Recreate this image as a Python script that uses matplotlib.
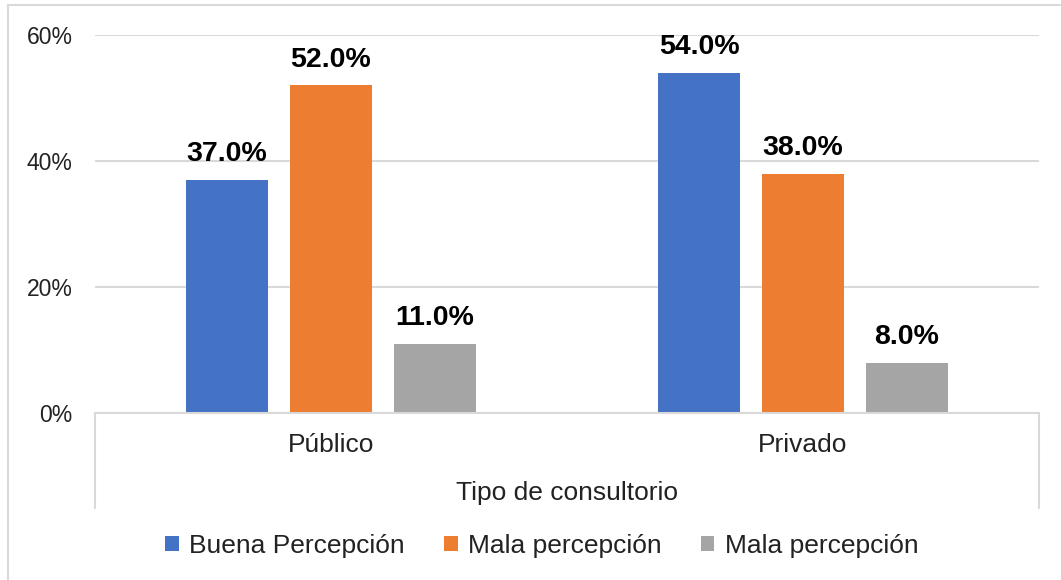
import matplotlib
matplotlib.use("Agg")
import matplotlib.pyplot as plt
from matplotlib.lines import Line2D
from matplotlib.patches import Patch
from matplotlib.ticker import FuncFormatter
import numpy as np

plt.rcParams['font.family'] = ['Liberation Sans', 'DejaVu Sans']

categories = ["Público", "Privado"]
series_names = ["Buena Percepción", "Mala percepción", "Mala percepción"]
buena = [0.37, 0.54]
mala = [0.52, 0.38]
mala2 = [0.11, 0.08]
colors = ["#4472C4", "#ED7D31", "#A5A5A5"]
y_ticks = [0, 0.2, 0.4, 0.6]
x_title = "Tipo de consultorio"

W, H = 1061, 580
fig = plt.figure(figsize=(W / 100, H / 100), dpi=100)
ax = fig.add_axes([95 / W, 1 - 413 / H, (1039 - 95) / W, (413 - 35) / H])

x = np.arange(len(categories))
width = 0.174
step = 0.22
for i, (vals, c) in enumerate(zip([buena, mala, mala2], colors)):
    bars = ax.bar(x + (i - 1) * step, vals, width, color=c, zorder=3)
    for b, v in zip(bars, vals):
        ax.annotate(f"{v * 100:.1f}%", (b.get_x() + b.get_width() / 2, v),
                    xytext=(0, 9), textcoords="offset points",
                    ha="center", va="bottom", fontsize=20.5, fontweight="bold",
                    color="black")

ax.set_xlim(-0.5, 1.5)
ax.set_ylim(0, 0.6)
ax.set_yticks(y_ticks)
ax.yaxis.set_major_formatter(FuncFormatter(lambda v, p: f"{v * 100:.0f}%"))
ax.tick_params(axis="y", length=0, labelsize=16.5, pad=16, labelcolor="#222222")
ax.set_xticks([])
ax.grid(axis="y", color="#D9D9D9", linewidth=1.5, zorder=0)
for s in ["top", "right", "left"]:
    ax.spines[s].set_visible(False)
ax.spines["bottom"].set_color("#D9D9D9")
ax.spines["bottom"].set_linewidth(1.5)
ax.spines["bottom"].set_zorder(4)

# multi-level category axis separators
depth = (508 - 413) / (413 - 35)
for xv in [-0.5, 1.5]:
    ax.plot([xv, xv], [0, -depth], transform=ax.get_xaxis_transform(),
            color="#D9D9D9", linewidth=1.5, clip_on=False)

for xi, cat in zip(x, categories):
    ax.text(xi, -(445 - 413) / (413 - 35), cat, transform=ax.get_xaxis_transform(),
            ha="center", va="center", fontsize=19, color="#222222")
fig.text((95 + 1039) / 2 / W, 1 - 493 / H, x_title, ha="center", va="center",
         fontsize=19, color="#222222")

handles = [Patch(facecolor=c, edgecolor="none") for c in colors]
fig.legend(handles, series_names, loc="center", bbox_to_anchor=(542 / W, 1 - 546 / H),
           ncol=3, frameon=False, fontsize=19, handlelength=0.5, handleheight=0.5,
           handletextpad=0.4, columnspacing=1.5, labelcolor="#222222")

# chart area border (top and left visible)
fig.add_artist(Line2D([8 / W, 8 / W], [0, 1 - 5 / H], transform=fig.transFigure,
                      color="#D9D9D9", linewidth=1.5))
fig.add_artist(Line2D([8 / W, 1], [1 - 5 / H, 1 - 5 / H], transform=fig.transFigure,
                      color="#D9D9D9", linewidth=1.5))

fig.savefig("out.png", dpi=100)
